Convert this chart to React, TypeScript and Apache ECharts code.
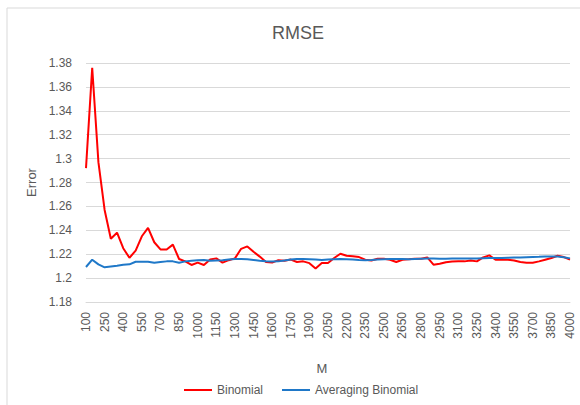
import React, { useEffect, useRef } from "react";
import * as echarts from "echarts";

const categories = [
  "100", "150", "200", "250", "300", "350", "400", "450", "500", "550",
  "600", "650", "700", "750", "800", "850", "900", "950", "1000", "1050",
  "1100", "1150", "1200", "1250", "1300", "1350", "1400", "1450", "1500", "1550",
  "1600", "1650", "1700", "1750", "1800", "1850", "1900", "1950", "2000", "2050",
  "2100", "2150", "2200", "2250", "2300", "2350", "2400", "2450", "2500", "2550",
  "2600", "2650", "2700", "2750", "2800", "2850", "2900", "2950", "3000", "3050",
  "3100", "3150", "3200", "3250", "3300", "3350", "3400", "3450", "3500", "3550",
  "3600", "3650", "3700", "3750", "3800", "3850", "3900", "3950", "4000",
];

const binomial = [
  1.292, 1.376, 1.297, 1.257, 1.233, 1.238, 1.225, 1.217, 1.223, 1.235,
  1.242, 1.23, 1.224, 1.224, 1.228, 1.216, 1.214, 1.211, 1.213, 1.211,
  1.2155, 1.2165, 1.213, 1.215, 1.2165, 1.2245, 1.2265, 1.222, 1.218, 1.2135,
  1.213, 1.215, 1.2145, 1.2155, 1.2135, 1.214, 1.2125, 1.208, 1.2126, 1.2126,
  1.2168, 1.2204, 1.2187, 1.2182, 1.2176, 1.2154, 1.2148, 1.2162, 1.2162, 1.2154,
  1.2135, 1.2154, 1.2157, 1.2162, 1.2162, 1.2173, 1.2112, 1.212, 1.2133, 1.2138,
  1.214, 1.214, 1.2148, 1.214, 1.2173, 1.219, 1.2154, 1.2154, 1.2154, 1.2148,
  1.2135, 1.2129, 1.2129, 1.214, 1.2154, 1.2168, 1.2187, 1.2176, 1.2154,
];

const averagingBinomial = [
  1.2093, 1.2154, 1.2115, 1.209, 1.2097, 1.2104, 1.2112, 1.2115, 1.2137, 1.2137,
  1.2137, 1.2128, 1.2134, 1.214, 1.214, 1.2128, 1.214, 1.2146, 1.215, 1.2151,
  1.2145, 1.2148, 1.215, 1.2155, 1.216, 1.216, 1.2158, 1.2152, 1.2145, 1.214,
  1.2138, 1.214, 1.2148, 1.2155, 1.216, 1.216, 1.2158, 1.2155, 1.2152, 1.2155,
  1.2158, 1.216, 1.2158, 1.2155, 1.2152, 1.215, 1.2152, 1.2155, 1.2158, 1.216,
  1.216, 1.216, 1.2158, 1.216, 1.2162, 1.2163, 1.2163, 1.2162, 1.2162, 1.2163,
  1.2163, 1.2165, 1.2165, 1.2165, 1.2167, 1.2168, 1.2168, 1.2168, 1.217, 1.2172,
  1.2173, 1.2175, 1.2177, 1.2178, 1.218, 1.218, 1.218, 1.2175, 1.2165,
];

const FONT = "'Liberation Sans', Arial, sans-serif";
const TEXT = "#595959";

export default function App() {
  const ref = useRef<HTMLDivElement>(null);
  useEffect(() => {
    if (!ref.current) return;
    const chart = echarts.init(ref.current, null, { renderer: "svg" });
    chart.setOption({
      animation: false,
      backgroundColor: "#ffffff",
      textStyle: { fontFamily: FONT },
      graphic: [
        { type: "line", shape: { x1: 7, y1: 8, x2: 580, y2: 8 }, style: { stroke: "#d9d9d9", lineWidth: 1 } },
        { type: "line", shape: { x1: 7, y1: 8, x2: 7, y2: 405 }, style: { stroke: "#d9d9d9", lineWidth: 1 } },
        {
          type: "text",
          x: 298,
          y: 33,
          style: {
            text: "RMSE",
            fill: TEXT,
            font: `18px ${FONT}`,
            textAlign: "center",
            textVerticalAlign: "middle",
          },
        },
      ],
      legend: {
        left: 184,
        top: 384,
        padding: 0,
        itemWidth: 28,
        itemHeight: 2,
        itemGap: 19,
        icon: "rect",
        textStyle: { color: TEXT, fontSize: 12, fontFamily: FONT },
        data: ["Binomial", "Averaging Binomial"],
      },
      grid: { left: 86, right: 10, top: 63, bottom: 103 },
      xAxis: {
        type: "category",
        data: categories,
        boundaryGap: false,
        name: "M",
        nameLocation: "middle",
        nameGap: 60,
        nameTextStyle: { color: TEXT, fontSize: 13, fontFamily: FONT, padding: [0, 12, 0, 0] },
        axisLine: { show: true, lineStyle: { color: "#d9d9d9" } },
        axisTick: { show: false },
        axisLabel: {
          interval: 2,
          rotate: 90,
          margin: 10,
          color: TEXT,
          fontSize: 12,
          fontFamily: FONT,
        },
        splitLine: { show: false },
      },
      yAxis: {
        type: "value",
        min: 1.18,
        max: 1.38,
        interval: 0.02,
        name: "Error",
        nameLocation: "middle",
        nameGap: 46,
        nameRotate: 90,
        nameTextStyle: { color: TEXT, fontSize: 13, fontFamily: FONT },
        axisLine: { show: false },
        axisTick: { show: false },
        axisLabel: {
          margin: 14,
          color: TEXT,
          fontSize: 12,
          fontFamily: FONT,
          formatter: (v: number) => String(parseFloat(v.toFixed(2))),
        },
        splitLine: { show: true, lineStyle: { color: "#d9d9d9", width: 1 } },
      },
      series: [
        {
          name: "Binomial",
          type: "line",
          data: binomial,
          symbol: "none",
          lineStyle: { color: "#ff0000", width: 2 },
          itemStyle: { color: "#ff0000" },
        },
        {
          name: "Averaging Binomial",
          type: "line",
          data: averagingBinomial,
          symbol: "none",
          lineStyle: { color: "#1f78c8", width: 2 },
          itemStyle: { color: "#1f78c8" },
        },
      ],
    });
    return () => chart.dispose();
  }, []);
  return (
    <div
      ref={ref}
      style={{ position: "fixed", left: 0, top: 0, width: 580, height: 405 }}
    />
  );
}
